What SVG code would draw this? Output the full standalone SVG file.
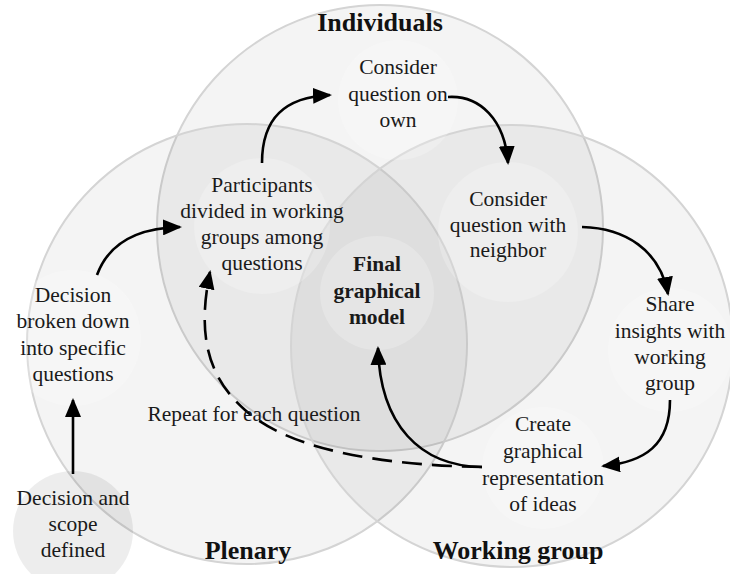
<svg xmlns="http://www.w3.org/2000/svg" width="730" height="574" viewBox="0 0 730 574">
<defs>
<style>
.region{fill:#000;fill-opacity:0.045;stroke:#d4d4d4;stroke-width:2}
.blob{fill:#fff;fill-opacity:0.22}
.t{font-family:"Liberation Serif","Times New Roman",serif;font-size:21.5px;fill:#1a1a1a;text-anchor:middle}
.b{font-weight:bold}
.lab{font-family:"Liberation Serif","Times New Roman",serif;font-size:26px;font-weight:bold;fill:#111;text-anchor:middle}
.c{fill:none;stroke:#000;stroke-width:2.6}
.d{stroke-dasharray:20 10}
</style>
<marker id="ah" markerUnits="userSpaceOnUse" markerWidth="20" markerHeight="16" refX="17" refY="8" orient="auto">
<path d="M0,0 L19,8 L0,16 z" fill="#000"/>
</marker>
</defs>
<rect width="730" height="574" fill="#fff"/>
<g id="regions">
<circle class="region" cx="380" cy="228" r="223"/>
<circle class="region" cx="247" cy="344" r="220"/>
<circle class="region" cx="512" cy="346" r="221"/>
</g>
<g id="n-scope"><circle cx="73" cy="531" r="60" fill="#000" fill-opacity="0.07"/>
<text class="t"><tspan x="73" y="505">Decision and</tspan><tspan x="73" y="531">scope</tspan><tspan x="73" y="557">defined</tspan></text></g>
<g id="n-broken"><circle class="blob" cx="73" cy="338" r="68"/>
<text class="t"><tspan x="73" y="302">Decision</tspan><tspan x="73" y="328">broken down</tspan><tspan x="73" y="355">into specific</tspan><tspan x="73" y="381">questions</tspan></text></g>
<g id="n-participants"><circle class="blob" cx="262" cy="226" r="68"/>
<text class="t"><tspan x="262" y="192">Participants</tspan><tspan x="262" y="218">divided in working</tspan><tspan x="262" y="244">groups among</tspan><tspan x="262" y="270">questions</tspan></text></g>
<g id="n-own"><circle class="blob" cx="398" cy="100" r="60"/>
<text class="t"><tspan x="398" y="74">Consider</tspan><tspan x="398" y="101">question on</tspan><tspan x="398" y="127">own</tspan></text></g>
<g id="n-neighbor"><circle class="blob" cx="508" cy="232" r="70"/>
<text class="t"><tspan x="508" y="206">Consider</tspan><tspan x="508" y="232">question with</tspan><tspan x="508" y="257">neighbor</tspan></text></g>
<g id="n-share"><circle class="blob" cx="670" cy="350" r="62"/>
<text class="t"><tspan x="670" y="311">Share</tspan><tspan x="670" y="338">insights with</tspan><tspan x="670" y="364">working</tspan><tspan x="670" y="390">group</tspan></text></g>
<g id="n-create"><circle class="blob" cx="543" cy="468" r="61"/>
<text class="t"><tspan x="543" y="431">Create</tspan><tspan x="543" y="458">graphical</tspan><tspan x="543" y="485">representation</tspan><tspan x="543" y="511">of ideas</tspan></text></g>
<g id="n-final"><circle class="blob" cx="377" cy="293" r="57"/>
<text class="t b"><tspan x="377" y="271">Final</tspan><tspan x="377" y="298">graphical</tspan><tspan x="377" y="324">model</tspan></text></g>
<g id="connectors">
<path class="c" d="M73,474 L73,400" marker-end="url(#ah)"/>
<path class="c" d="M97,275 C108,245 135,228 180,227" marker-end="url(#ah)"/>
<path class="c" d="M262,163 C262,118 285,97 330,95" marker-end="url(#ah)"/>
<path class="c" d="M448,97 C480,95 505,120 508,163" marker-end="url(#ah)"/>
<path class="c" d="M582,227 C625,228 660,250 668,294" marker-end="url(#ah)"/>
<path class="c" d="M670,400 C670,445 645,462 603,466" marker-end="url(#ah)"/>
<path class="c" d="M482,467 C420,466 380,425 378,348" marker-end="url(#ah)"/>
<path class="c d" d="M482,467 C380,465 290,450 245,410 C205,375 198,330 210,272" marker-end="url(#ah)"/>
<text class="t" x="254" y="421">Repeat for each question</text>
</g>
<g id="labels">
<text class="lab" x="380" y="31">Individuals</text>
<text class="lab" x="248" y="559">Plenary</text>
<text class="lab" x="518" y="559">Working group</text>
</g>
</svg>
